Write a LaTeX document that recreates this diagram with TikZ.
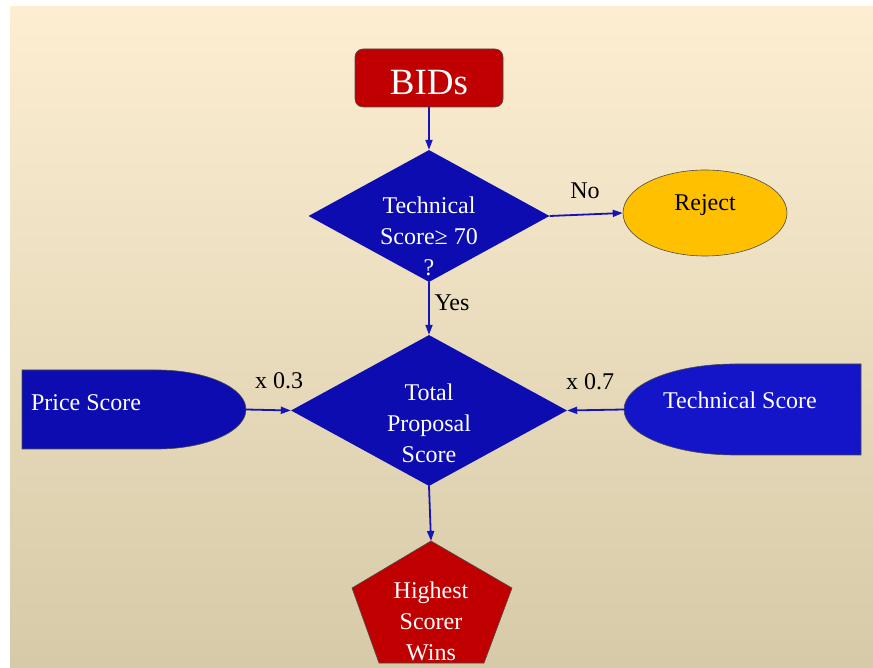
\documentclass[tikz,border=0pt]{standalone}
\usepackage{fontspec}
\setmainfont{Liberation Serif}
\usetikzlibrary{arrows.meta,positioning,shapes.geometric}
\definecolor{bidred}{RGB}{192,0,0}
\definecolor{flowblue}{RGB}{12,12,176}
\definecolor{techblue}{RGB}{20,20,200}
\definecolor{lineblue}{RGB}{20,20,184}
\definecolor{rejectgold}{RGB}{255,192,0}
\definecolor{bgtop}{RGB}{253,238,210}
\definecolor{bgbottom}{RGB}{214,202,168}

\begin{document}
\begin{tikzpicture}[
    x=1pt, y=1pt,
    txt/.style={align=center, font=\fontsize{24}{31}\selectfont},
    decision/.style={diamond, fill=flowblue, inner sep=0pt},
    edge/.style={draw=black!70, line width=0.6pt},
    link/.style={-{Triangle[length=10pt, width=7pt]}, draw=lineblue, line width=1.8pt}
]
\useasboundingbox (0,0) rectangle (873,667);
\shade[top color=bgtop, bottom color=bgbottom] (10,0) rectangle (873,660);

% start and first check
\node[edge, fill=bidred, rounded corners=8pt, minimum width=148pt, minimum height=58pt] (bids) at (429,589) {};
\node[white, font=\fontsize{37}{44}\selectfont] (bidstext) at ([yshift=-5pt]bids.center) {BIDs};
\node[decision, minimum width=241pt, minimum height=132pt] (check) at (429,451) {};
\node[txt, white] (checktext) at ([yshift=-20pt]check.center) {Technical\\Score≥ 70\\?};
\node[edge, ellipse, fill=rejectgold, minimum width=164pt, minimum height=86pt] (reject) at (705,454) {};
\node[txt] (rejecttext) at ([yshift=8pt]reject.center) {Reject};

% weighted scores
\node[decision, minimum width=276pt, minimum height=151pt] (total) at (429,256.5) {};
\node[txt, white] (totaltext) at ([yshift=-13pt]total.center) {Total\\Proposal\\Score};
\filldraw[edge, fill=flowblue] (22,297) -- (157,297) arc[start angle=90, end angle=-90, x radius=89, y radius=39.5] -- (22,218) -- cycle;
\coordinate (priceout) at (246,257.5);
\node[txt, white] (price) at (86,264) {Price Score};
\filldraw[edge, fill=techblue] (861,303) -- (735,303) arc[start angle=90, end angle=270, x radius=111, y radius=45.5] -- (861,212) -- cycle;
\coordinate (techout) at (624,257.5);
\node[txt, white] (tech) at (740,267) {Technical Score};

% winner
\filldraw[edge, fill=bidred] (431,126) -- (512,79) -- (484,4) -- (379,4) -- (352,79) -- cycle;
\coordinate (wintop) at (431,126);
\node[txt, white] (wins) at (431,46) {Highest\\Scorer\\Wins};

\draw[link] (bids.south) -- (check.north);
\draw[link] (check.east) -- (reject.west);
\draw[link] (check.south) -- (total.north);
\draw[link] (priceout) -- (total.west);
\draw[link] (techout) -- (total.east);
\draw[link] (total.south) -- (wintop);

\node[txt] (no) at (585,476) {No};
\node[txt] (yes) at (452,364) {Yes};
\node[txt] (pricew) at (279,286) {x 0.3};
\node[txt] (techw) at (590,285) {x 0.7};
\end{tikzpicture}
\end{document}
